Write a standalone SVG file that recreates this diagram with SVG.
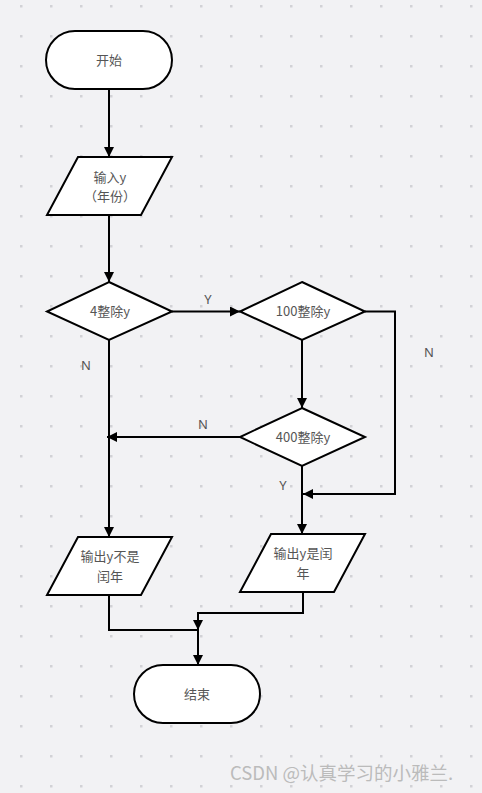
<svg xmlns="http://www.w3.org/2000/svg" width="482" height="793" viewBox="0 0 482 793">
<defs>
<pattern id="dots" x="20" y="5" width="30" height="30" patternUnits="userSpaceOnUse">
<rect x="0" y="0" width="2.5" height="2.5" fill="#d2d2d6"/>
</pattern>
<marker id="arr" viewBox="0 0 10 10" refX="10" refY="5" markerWidth="10" markerHeight="10" markerUnits="userSpaceOnUse" orient="auto">
<path d="M0,0 L10,5 L0,10 Z" fill="#000"/>
</marker>
</defs>
<style>
.shape{fill:#fff;stroke:#000;stroke-width:2}
.t{font-family:"Noto Sans CJK SC","Noto Sans",sans-serif;font-size:13px;fill:#555;text-anchor:middle}
.lbl{font-family:"Noto Sans","Noto Sans CJK SC",sans-serif;font-size:13px;fill:#555;text-anchor:middle}
.c{fill:none;stroke:#000;stroke-width:2}
</style>
<rect width="482" height="793" fill="#f2f2f4"/>
<rect width="482" height="793" fill="url(#dots)"/>
<g id="connectors">
<path class="c" d="M109,90 V157" marker-end="url(#arr)"/>
<path class="c" d="M109,215 V282" marker-end="url(#arr)"/>
<path class="c" d="M172,311.5 H240" marker-end="url(#arr)"/>
<path class="c" d="M302,340 V408" marker-end="url(#arr)"/>
<path class="c" d="M365,311.5 H395 V494 H303" marker-end="url(#arr)"/>
<path class="c" d="M240,437 H107" marker-end="url(#arr)"/>
<path class="c" d="M109,340 V537" marker-end="url(#arr)"/>
<path class="c" d="M302,466 V534" marker-end="url(#arr)"/>
<path class="c" d="M109,595 V630 H198"/>
<path class="c" d="M303,592 V613 H198 V630" marker-end="url(#arr)"/>
<path class="c" d="M198,630 V665" marker-end="url(#arr)"/>
<text class="lbl" x="208" y="304">Y</text>
<text class="lbl" x="429" y="357">N</text>
<text class="lbl" x="86" y="370">N</text>
<text class="lbl" x="203" y="429">N</text>
<text class="lbl" x="283" y="490">Y</text>
</g>
<g id="start">
<rect class="shape" x="46" y="31" width="126" height="58" rx="29" ry="29"/>
<text class="t" x="109" y="65">开始</text>
</g>
<g id="input">
<polygon class="shape" points="78,157 172,157 141,215 47,215"/>
<text class="t" x="110" y="182">输入y</text>
<text class="t" x="110" y="201">（年份）</text>
</g>
<g id="d4">
<polygon class="shape" points="109,282 172,311.5 109,340 47,311.5"/>
<text class="t" x="110" y="316">4整除y</text>
</g>
<g id="d100">
<polygon class="shape" points="302,282 365,311.5 302,340 240,311.5"/>
<text class="t" x="303" y="316">100整除y</text>
</g>
<g id="d400">
<polygon class="shape" points="302,408 365,437 302,466 240,437"/>
<text class="t" x="303" y="442">400整除y</text>
</g>
<g id="outNo">
<polygon class="shape" points="78,537 172,537 141,595 47,595"/>
<text class="t" x="110" y="561">输出y不是</text>
<text class="t" x="110" y="581">闰年</text>
</g>
<g id="outYes">
<polygon class="shape" points="271,534 365,534 334,592 240,592"/>
<text class="t" x="303" y="558">输出y是闰</text>
<text class="t" x="303" y="578">年</text>
</g>
<g id="end">
<rect class="shape" x="134" y="665" width="126" height="58" rx="29" ry="29"/>
<text class="t" x="197" y="699">结束</text>
</g>
<text x="230" y="780" font-family="'Noto Sans CJK SC','Noto Sans',sans-serif" font-size="18.5" fill="#bbb">CSDN @认真学习的小雅兰.</text>
</svg>
